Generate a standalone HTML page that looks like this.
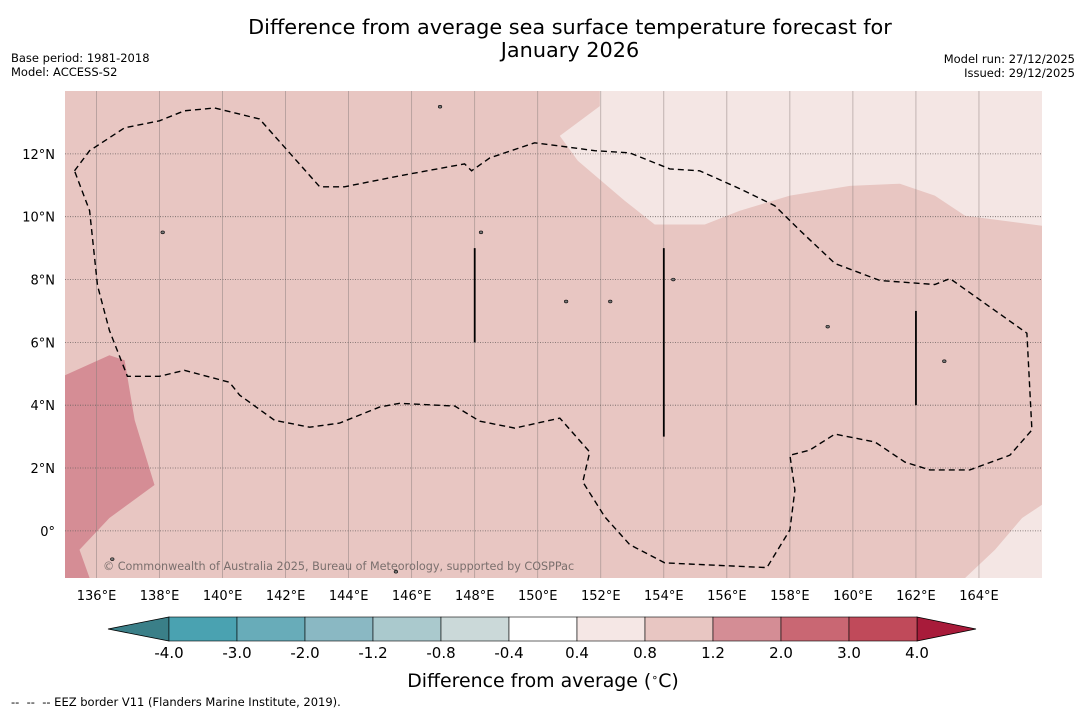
<!DOCTYPE html>
<html><head><meta charset="utf-8"><style>
body{margin:0;background:#fff;font-family:"DejaVu Sans","Liberation Sans",sans-serif;}
svg text{font-family:"DejaVu Sans","Liberation Sans",sans-serif;}
</style></head><body>
<svg id="c" width="1085" height="713" viewBox="0 0 1085 713" xmlns="http://www.w3.org/2000/svg">
<rect width="1085" height="713" fill="#fff"/>
<text x="570" y="34" font-size="20.8" text-anchor="middle">Difference from average sea surface temperature forecast for</text>
<text x="570" y="57" font-size="20.8" text-anchor="middle">January 2026</text>
<text x="11" y="62" font-size="11.5">Base period: 1981-2018</text>
<text x="11" y="76" font-size="11.5">Model: ACCESS-S2</text>
<text x="1075" y="63" font-size="11.5" text-anchor="end">Model run: 27/12/2025</text>
<text x="1075" y="77" font-size="11.5" text-anchor="end">Issued: 29/12/2025</text>
<g id="map"></g>
<g id="cbar"></g>
<text x="543" y="687" font-size="18.9" text-anchor="middle">Difference from average (<tspan dy="-6" font-size="11">∘</tspan><tspan dy="6">C)</tspan></text>
<text x="11" y="706" font-size="11.5">-- &#160;-- &#160;-- EEZ border V11 (Flanders Marine Institute, 2019).</text>
</svg>
<script>
const lonTicks=[136,138,140,142,144,146,148,150,152,154,156,158,160,162,164];
const latTicks=[0,2,4,6,8,10,12];
const eezLon=[135.3,135.78,136.89,138.0,138.79,139.75,141.17,143.08,143.87,145.62,147.68,147.9,148.48,149.9,150.7,151.81,152.92,154.19,155.14,156.41,157.52,158.32,159.43,160.86,162.6,163.08,165.52,165.68,164.98,163.71,162.44,161.65,160.7,159.43,158.63,158.0,158.16,158.0,157.27,154.03,152.92,152.13,151.43,151.65,150.7,149.27,148.16,147.37,145.62,144.98,143.71,142.76,141.65,140.54,140.22,138.79,138.0,136.98,136.41,136.03,135.78];
const eezLat=[11.46,12.1,12.83,13.05,13.37,13.46,13.11,10.95,10.95,11.3,11.68,11.46,11.87,12.35,12.25,12.1,12.03,11.52,11.46,10.89,10.35,9.56,8.51,7.97,7.84,8.03,6.29,3.21,2.41,1.94,1.94,2.19,2.83,3.08,2.57,2.41,1.3,0.03,-1.17,-1.02,-0.44,0.44,1.56,2.51,3.59,3.27,3.49,3.97,4.06,3.94,3.43,3.3,3.52,4.32,4.73,5.11,4.92,4.92,6.38,7.81,10.19];
const lightNLon=[151.97,151.97,150.7,151.27,152.76,153.71,155.3,156.41,158.0,159.9,161.49,162.6,163.56,166,166];
const lightNLat=[14,13.52,12.57,11.78,10.51,9.75,9.75,10.19,10.67,10.98,11.05,10.67,10.03,9.71,14];
const lightSLon=[166,165.37,164.51,163.56,166];
const lightSLat=[0.83,0.41,-0.6,-1.5,-1.5];
const darkLon=[135,136.41,136.89,137.21,137.84,136.41,135.46,135.78,135];
const darkLat=[4.95,5.59,5.43,3.52,1.46,0.41,-0.6,-1.5,-1.5];
const barLon=[148,154,162];
const barLatTop=[9,9,7];
const barLatBot=[6,3,4];
const islandLon=[146.9,148.2,150.9,152.3,154.3,159.2,162.9,136.5,145.5,138.1];
const islandLat=[13.5,9.5,7.3,7.3,8.0,6.5,5.4,-0.9,-1.3,9.5];
const cbLabels=["-4.0","-3.0","-2.0","-1.2","-0.8","-0.4","0.4","0.8","1.2","2.0","3.0","4.0"];
const cbColors=["#4aa2b1","#68acb9","#8ab8c3","#aac9cd","#cbd9d9","#ffffff","#f5e7e5","#e8c6c2","#d48d95","#c96773","#c04a5a"];
const cbUnder="#3a7f88", cbOver="#a81b3a";

const NS="http://www.w3.org/2000/svg";
const X0=65,X1=1042,Y0=91,Y1=578,LON0=135,LON1=166,LAT0=-1.5,LAT1=14;
const xs=l=>X0+(l-LON0)/(LON1-LON0)*(X1-X0);
const ys=l=>Y1-(l-LAT0)/(LAT1-LAT0)*(Y1-Y0);
function mk(t,a,p){const e=document.createElementNS(NS,t);for(const k in a)e.setAttribute(k,a[k]);p.appendChild(e);return e;}
const map=document.getElementById('map');
function pts(lo,la){return lo.map((v,i)=>xs(v).toFixed(1)+','+ys(la[i]).toFixed(1)).join(' ');}

let r=mk('rect',{x:X0,y:Y0,width:X1-X0,height:Y1-Y0,fill:'#e8c6c2'},map);


let p=mk('polygon',{points:pts(lightNLon,lightNLat),fill:'#f4e6e4'},map);


p=mk('polygon',{points:pts(lightSLon,lightSLat),fill:'#f4e6e4'},map);


p=mk('polygon',{points:pts(darkLon,darkLat),fill:'#d58d95'},map);



lonTicks.forEach(l=>{
 const x=xs(l);
 let g=mk('line',{x1:x,x2:x,y1:Y0,y2:Y1,stroke:'#8c7f7d','stroke-width':0.7,opacity:0.7},map);
 
 
 let t=mk('text',{x:x,y:600,'font-size':13,'text-anchor':'middle'},map);t.textContent=l+'°E';
 
 
});
latTicks.forEach(l=>{
 const y=ys(l);
 let g=mk('line',{x1:X0,x2:X1,y1:y,y2:y,stroke:'#6d6361','stroke-width':0.8,'stroke-dasharray':'1,1.5'},map);
 
 
 let t=mk('text',{x:55,y:y+5,'font-size':13,'text-anchor':'end'},map);t.textContent=l===0?'0°':l+'°N';
 
 
});

let e=mk('polygon',{points:pts(eezLon,eezLat),fill:'none',stroke:'#000','stroke-width':1.4,'stroke-dasharray':'6,4'},map);


barLon.forEach((l,i)=>{
 let b=mk('line',{x1:xs(l),x2:xs(l),y1:ys(barLatTop[i]),y2:ys(barLatBot[i]),stroke:'#000','stroke-width':1.8},map);
 
 
});
islandLon.forEach((l,i)=>{
 let s=mk('ellipse',{cx:xs(l),cy:ys(islandLat[i]),rx:1.8,ry:1.4,fill:'#777',stroke:'#000','stroke-width':0.6},map);
 
 
});
let c=mk('text',{x:103,y:570,'font-size':11.2,fill:'#7a6f6d'},map);
c.textContent='© Commonwealth of Australia 2025, Bureau of Meteorology, supported by COSPPac';



const cb=document.getElementById('cbar');
const CX0=169,CW=68,CY=617,CH=24;
let u=mk('polygon',{points:`108,629 ${CX0},${CY} ${CX0},${CY+CH}`,fill:cbUnder,stroke:'#000','stroke-width':0.8},cb);


const endX=CX0+CW*cbColors.length;
let o=mk('polygon',{points:`${endX},${CY} 976,629 ${endX},${CY+CH}`,fill:cbOver,stroke:'#000','stroke-width':0.8},cb);


cbColors.forEach((col,i)=>{
 let b=mk('rect',{x:CX0+i*CW,y:CY,width:CW,height:CH,fill:col,stroke:'#000','stroke-width':0.6},cb);
 
 
});
cbLabels.forEach((lb,i)=>{
 let t=mk('text',{x:CX0+i*CW,y:658,'font-size':15,'text-anchor':'middle'},cb);t.textContent=lb;
 
 
});
</script>
</body></html>
